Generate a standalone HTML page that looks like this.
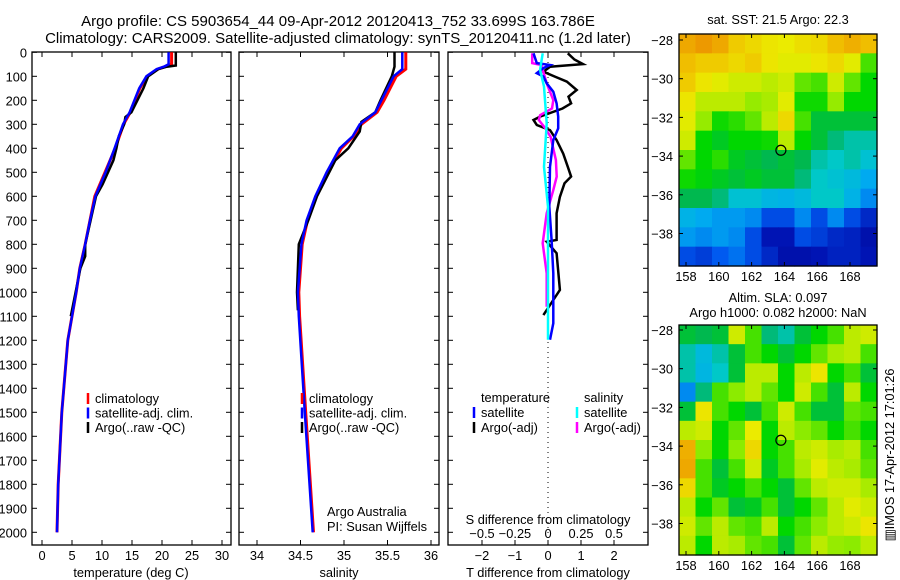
<!DOCTYPE html>
<html><head><meta charset="utf-8"><style>
body{margin:0;background:#fff;}
svg{display:block;font-family:"Liberation Sans",sans-serif;}
</style></head><body>
<svg id="fig" width="900" height="580" viewBox="0 0 900 580"></svg>
<script>
// ---- data ----
const tDepth=[0,50,60,70,100,150,200,250,300,400,500,600,700,800,900,1000,1100,1200,1500,1800,2000];
const tClim=[21.6,21.6,20.5,19.3,17.5,16.3,15.5,14.7,13.6,12.2,10.5,8.8,8.0,7.2,6.3,5.7,5.0,4.3,3.3,2.7,2.5];
const tSat=[21.1,21.1,20.3,19.1,17.4,16.2,15.4,14.6,13.5,12.1,10.6,8.9,8.0,7.2,6.3,5.7,5.0,4.3,3.3,2.7,2.5];
const aDepth=[0,55,60,70,100,150,200,250,270,300,350,400,450,500,550,600,700,800,850,900,1000,1100];
const tArgo=[22.3,22.3,20.8,19.4,17.7,16.9,15.9,14.9,13.9,13.7,12.8,12.4,11.9,11.0,10.1,9.0,8.1,7.2,7.2,6.4,5.6,4.8];
const sDepth=[0,70,100,200,250,300,350,400,500,600,700,800,1000,1100,1500,2000];
const sClim=[35.71,35.71,35.60,35.46,35.38,35.2,35.11,34.97,34.81,34.68,34.58,34.52,34.48,34.49,34.56,34.65];
const sSat=[35.67,35.67,35.57,35.43,35.36,35.18,35.1,34.95,34.8,34.67,34.57,34.51,34.47,34.48,34.55,34.64];
const sArgoDepth=[0,60,100,200,250,290,330,400,450,500,600,700,800,1000,1075];
const sArgo=[35.58,35.58,35.55,35.42,35.36,35.2,35.18,35.05,34.9,34.83,34.69,34.59,34.48,34.46,34.47];
const dtArgoDepth=[4,30,49,60,81,101,122,157,185,213,234,268,282,303,324,366,422,477,518,546,602,671,782,789,837,990,1032,1095];
const dtArgo=[0.6,0.8,1.06,0.06,-0.14,0.2,0.57,0.87,0.62,0.7,0.44,-0.24,-0.44,-0.34,0.06,0.26,0.46,0.6,0.7,0.5,0.36,0.26,0.26,-0.04,0.26,0.36,0.16,-0.14];
const dtSatDepth=[4,45,53,66,87,101,129,164,213,268,317,366,477,643,782,921,1129,1198];
const dtSat=[-0.44,-0.34,0.06,-0.14,-0.34,-0.14,-0.04,0.16,0.26,0.31,0.31,0.16,0.06,0.04,0.11,0.16,0.16,0.06];
const dsArgoDepth=[4,45,53,129,199,234,262,282,317,352,449,518,574,671,796,921,1060];
const dsArgo=[-0.12,-0.12,-0.05,-0.01,0.04,0.03,-0.06,-0.07,-0.02,0.02,0.06,0.066,0.04,-0.01,-0.04,-0.01,-0.01];
const dsSatDepth=[4,73,143,296,477,643,921,1198];
const dsSat=[-0.04,-0.06,-0.03,-0.01,-0.03,0.0,0.0,0.0];
const depthTicks=[0,100,200,300,400,500,600,700,800,900,1000,1100,1200,1300,1400,1500,1600,1700,1800,1900,2000];
const tTicks=[0,5,10,15,20,25,30];
const sTicks=[34,34.5,35,35.5,36];
const dtTicks=[-2,-1,0,1,2];
const dsTicks=[-0.5,-0.25,0,0.25,0.5];
const dsTickLabels=["\u22120.5","\u22120.25","0","0.25","0.5"];
const lonTicks=[158,160,162,164,166,168];
const latTicks=[-28,-30,-32,-34,-36,-38];
const sstGrid=[
[.85,.87,.85,.8,.78,.76,.75,.77,.78,.82,.84,.82],
[.82,.8,.8,.78,.8,.76,.74,.74,.76,.78,.74,.6],
[.8,.76,.74,.72,.72,.7,.72,.62,.6,.72,.62,.55],
[.76,.7,.7,.7,.66,.68,.74,.56,.56,.66,.55,.55],
[.74,.66,.56,.58,.62,.7,.78,.6,.5,.5,.5,.5],
[.72,.55,.52,.55,.55,.56,.7,.55,.5,.45,.42,.42],
[.62,.55,.58,.52,.5,.48,.5,.48,.42,.40,.42,.38],
[.56,.54,.52,.5,.52,.5,.5,.45,.4,.38,.36,.32],
[.48,.48,.45,.38,.38,.35,.34,.36,.4,.40,.34,.28],
[.34,.32,.3,.3,.28,.2,.2,.28,.2,.28,.2,.15],
[.3,.28,.3,.28,.2,.12,.12,.2,.18,.15,.14,.1],
[.2,.18,.22,.25,.2,.15,.1,.1,.12,.14,.14,.12]];
const slaGrid=[
[.5,.48,.5,.72,.6,.45,.42,.5,.55,.6,.7,.72],
[.42,.36,.42,.5,.6,.55,.5,.55,.62,.68,.7,.6],
[.42,.35,.4,.5,.7,.7,.55,.7,.76,.55,.6,.5],
[.28,.45,.6,.65,.7,.62,.55,.72,.6,.5,.7,.55],
[.5,.76,.6,.55,.5,.6,.72,.6,.5,.5,.62,.6],
[.7,.72,.55,.62,.75,.55,.7,.65,.62,.55,.6,.55],
[.84,.65,.55,.65,.78,.55,.6,.7,.72,.68,.7,.6],
[.85,.6,.5,.6,.72,.52,.6,.68,.74,.7,.68,.62],
[.78,.6,.52,.55,.6,.55,.5,.62,.7,.72,.72,.68],
[.7,.55,.62,.5,.52,.6,.5,.55,.62,.7,.74,.72],
[.72,.62,.7,.62,.6,.7,.55,.6,.65,.7,.72,.76],
[.7,.55,.7,.68,.62,.6,.5,.62,.7,.66,.65,.7]];
const argoLon=163.786, argoLat=-33.699;

// ---- helpers ----
const NS="http://www.w3.org/2000/svg";
const svg=document.getElementById('fig');
const FS=12.8;
function mk(tag,attrs,parent){const e=document.createElementNS(NS,tag);for(const k in attrs)e.setAttribute(k,attrs[k]);(parent||svg).appendChild(e);return e;}
function txt(x,y,s,size,anchor,parent){const e=mk('text',{x:x,y:y,'font-size':size||FS,'text-anchor':anchor||'middle',fill:'#000'},parent);e.textContent=s;return e;}
const yD=d=>52.3+0.24*d;
const xT=t=>42+6*t;
const xS=s=>257+87*(s-34);
const xDT=t=>548+33*t;
const xDS=s=>548+132*s;
function line(depths,vals,fx,color,w,name){
  const pts=depths.map((d,i)=>fx(vals[i]).toFixed(1)+','+yD(d).toFixed(1)).join(' ');
  const p=mk('polyline',{points:pts,fill:'none',stroke:color,'stroke-width':w,'stroke-linejoin':'miter'});
  
  
  return p;
}
function panel(x0,x1,name){
  const r=mk('rect',{x:x0,y:52,width:x1-x0,height:493,fill:'none',stroke:'#000','stroke-width':1.3});
  
  
  depthTicks.forEach(d=>{mk('line',{x1:x0,x2:x0+5,y1:yD(d),y2:yD(d),stroke:'#000'});mk('line',{x1:x1-5,x2:x1,y1:yD(d),y2:yD(d),stroke:'#000'});});
}
const cStops=[[0,[0,0,130]],[0.12,[0,20,180]],[0.22,[0,90,240]],[0.32,[0,170,240]],[0.4,[0,200,200]],[0.47,[0,180,90]],[0.55,[0,215,0]],[0.65,[140,235,0]],[0.75,[235,235,0]],[0.82,[240,190,0]],[0.9,[235,130,0]],[1,[200,60,0]]];
function cmap(v){for(let i=1;i<cStops.length;i++){if(v<=cStops[i][0]){const a=cStops[i-1],b=cStops[i],f=(v-a[0])/(b[0]-a[0]);const c=a[1].map((x,k)=>Math.round(x+(b[1][k]-x)*f));return `rgb(${c[0]},${c[1]},${c[2]})`;}}return 'rgb(200,60,0)';}

// ---- titles ----
let t1=txt(338,26,"Argo profile: CS 5903654_44 09-Apr-2012 20120413_752 33.699S 163.786E",15);


let t2=txt(338,43,"Climatology: CARS2009. Satellite-adjusted climatology: synTS_20120411.nc (1.2d later)",15);



// ---- panel 1: temperature ----
panel(32,231,'temperature-panel');
depthTicks.forEach(d=>{const e=txt(27,yD(d)+5,String(d),FS,'end');});
tTicks.forEach(t=>{mk('line',{x1:xT(t),x2:xT(t),y1:545,y2:540,stroke:'#000'});mk('line',{x1:xT(t),x2:xT(t),y1:52,y2:57,stroke:'#000'});const e=txt(xT(t),560,String(t),FS);});
let xl1=txt(131,577,"temperature (deg C)",FS);
line(tDepth,tClim,xT,'#f00',3,'temperature-climatology-line');
line(aDepth,tArgo,xT,'#000',2.5,'temperature-argo-line');
line(tDepth,tSat,xT,'#00f',2.5,'temperature-satellite-line');

// ---- panel 2: salinity ----
panel(239,439,'salinity-panel');
sTicks.forEach(s=>{mk('line',{x1:xS(s),x2:xS(s),y1:545,y2:540,stroke:'#000'});mk('line',{x1:xS(s),x2:xS(s),y1:52,y2:57,stroke:'#000'});const e=txt(xS(s),560,String(s),FS);});
let xl2=txt(339,577,"salinity",FS);
line(sDepth,sClim,xS,'#f00',3,'salinity-climatology-line');
line(sArgoDepth,sArgo,xS,'#000',2.5,'salinity-argo-line');
line(sDepth,sSat,xS,'#00f',2.5,'salinity-satellite-line');
let cr1=txt(327,516,"Argo Australia",FS,'start');
let cr2=txt(327,531,"PI: Susan Wijffels",FS,'start');

// legends
function legend(x,items){items.forEach((it,i)=>{const y=399+i*14.5;const g=mk('g',{});mk('line',{x1:x,x2:x,y1:y-6,y2:y+5,stroke:it[1],'stroke-width':2.5},g);txt(x+7,y+4,it[0],FS,'start',g);});}
legend(88,[["climatology","#f00"],["satellite-adj. clim.","#00f"],["Argo(..raw -QC)","#000"]]);
legend(302,[["climatology","#f00"],["satellite-adj. clim.","#00f"],["Argo(..raw -QC)","#000"]]);

// ---- panel 3: differences ----
panel(448,648,'difference-panel');
mk('line',{x1:548,x2:548,y1:52,y2:545,stroke:'#000','stroke-dasharray':'1,4'});
dtTicks.forEach(t=>{mk('line',{x1:xDT(t),x2:xDT(t),y1:545,y2:540,stroke:'#000'});mk('line',{x1:xDT(t),x2:xDT(t),y1:52,y2:57,stroke:'#000'});const e=txt(xDT(t),560,t<0?"\u2212"+(-t):String(t),FS);});
dsTicks.forEach((s,i)=>{const e=txt(xDS(s),538,dsTickLabels[i],FS);});
let sdl=txt(548,524,"S difference from climatology",FS);
let tdl=txt(548,577,"T difference from climatology",FS);
line(dtArgoDepth,dtArgo,xDT,'#000',2.5,'t-diff-argo-line');
line(dsArgoDepth,dsArgo,xDS,'#f0f',2.5,'s-diff-argo-line');
line(dtSatDepth,dtSat,xDT,'#00f',2.5,'t-diff-satellite-line');
line(dsSatDepth,dsSat,xDS,'#0ff',2.5,'s-diff-satellite-line');
let lh1=txt(481,402,"temperature",FS,'start');
let lh2=txt(584,402,"salinity",FS,'start');
[["satellite","#00f",474,413],["Argo(-adj)","#000",474,428],["satellite","#0ff",577,413],["Argo(-adj)","#f0f",577,428]].forEach(it=>{const g=mk('g',{});mk('line',{x1:it[2],x2:it[2],y1:it[3]-6,y2:it[3]+5,stroke:it[1],'stroke-width':2.5},g);txt(it[2]+7,it[3]+4,it[0],FS,'start',g);});

// ---- maps ----
function map(y0,y1,latY0,grid,name,titles){
  const x0=679,x1=877,lonX=lon=>686+16.4*(lon-158),latY=lat=>latY0+19.35*(-28-lat);
  const g=mk('g',{});
  const rows=grid.length,cols=grid[0].length,cw=(x1-x0)/cols,ch=(y1-y0)/rows;
  grid.forEach((row,i)=>row.forEach((v,j)=>{mk('rect',{x:x0+j*cw,y:y0+i*ch,width:cw+0.6,height:ch+0.6,fill:cmap(v)},g);}));
  mk('rect',{x:x0,y:y0,width:x1-x0,height:y1-y0,fill:'none',stroke:'#000','stroke-width':1.3},g);
  lonTicks.forEach(l=>{mk('line',{x1:lonX(l),x2:lonX(l),y1:y1,y2:y1-4,stroke:'#000'},g);mk('line',{x1:lonX(l),x2:lonX(l),y1:y0,y2:y0+4,stroke:'#000'},g);txt(lonX(l),y1+15,String(l),FS,'middle',g);});
  latTicks.forEach(l=>{mk('line',{x1:x0,x2:x0+4,y1:latY(l),y2:latY(l),stroke:'#000'},g);mk('line',{x1:x1,x2:x1-4,y1:latY(l),y2:latY(l),stroke:'#000'},g);txt(x0-6,latY(l)+5,"\u2212"+(-l),FS,'end',g);});
  const c=mk('circle',{cx:lonX(argoLon),cy:latY(argoLat),r:5,fill:'none',stroke:'#000','stroke-width':1.2},g);
  
  
  titles.forEach(t=>txt(778,t[1],t[0],FS,'middle',g));
}
map(34,266,40,sstGrid,'sst-map',[["sat. SST: 21.5 Argo: 22.3",24]]);
map(325,555,330,slaGrid,'sla-map',[["Altim. SLA: 0.097",302],["Argo h1000: 0.082 h2000: NaN",317]]);
let st=txt(0,0,"\u25A5IMOS 17-Apr-2012 17:01:26",FS,'middle');
st.setAttribute('transform','translate(894,455) rotate(-90)');


</script>
</body></html>
